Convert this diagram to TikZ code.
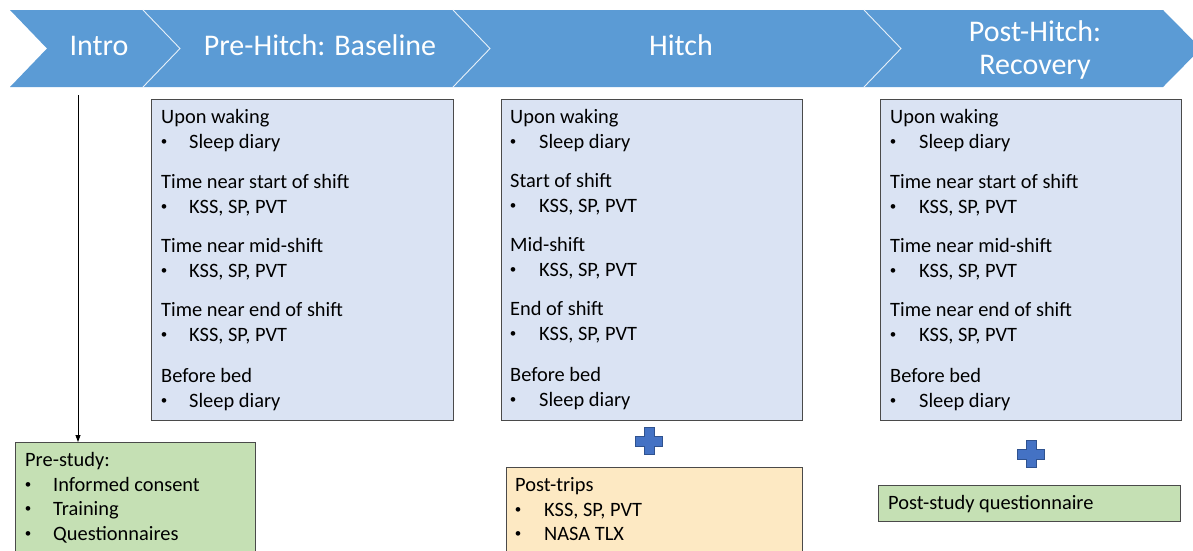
\documentclass[tikz,border=0pt]{standalone}
\usepackage{fontspec}
\setmainfont{Carlito}
\usetikzlibrary{arrows.meta}
\definecolor{chev}{HTML}{5B9BD5}
\definecolor{boxblue}{HTML}{DAE3F3}
\definecolor{boxgreen}{HTML}{C5E0B4}
\definecolor{boxyellow}{HTML}{FDE9C3}
\definecolor{boxline}{HTML}{4A4A4A}
\definecolor{plusfill}{HTML}{4472C4}
\definecolor{plusline}{HTML}{2F528F}
\newcommand\kssline{KSS, SP, PVT}
\begin{document}
\begin{tikzpicture}[x=1pt,y=-1pt,
  hdr/.style={anchor=base, inner sep=0pt, text=white, font=\fontsize{30}{33}\selectfont},
  txt/.style={anchor=base west, inner sep=0pt, font=\fontsize{20.4}{24}\selectfont},
  bul/.style={anchor=base, inner sep=0pt, yshift=2.4pt, font=\fontsize{13}{15}\selectfont},
  panel/.style={draw=boxline, line width=1.1pt, rectangle, inner sep=0pt, anchor=north west},
  plusmark/.style={fill=plusfill, draw=plusline, line width=0.8pt}]
\useasboundingbox (0,0) rectangle (1193,550);
\clip (0,0) rectangle (1193,550);
% chevron band
\fill[chev] (10,10) -- (1163,10) -- (1201,48.5) -- (1163,87) -- (10,87) -- (47,48.5) -- cycle;
\draw[white!85!chev, line width=0.9pt] (143,10) -- (180,48.5) -- (143,87);
\draw[white!85!chev, line width=0.9pt] (453,10) -- (490,48.5) -- (453,87);
\draw[white!85!chev, line width=0.9pt] (864,10) -- (901,48.5) -- (864,87);
\node[hdr] (intro) at (99,55) {Intro};
\node[hdr] (pre) at (320,55) {Pre-Hitch: Baseline};
\node[hdr] (hitch) at (681,55) {Hitch};
\node[hdr] (post1) at (1035,41) {Post-Hitch:};
\node[hdr] (post2) at (1035,74) {Recovery};
% panels
\node[panel, fill=boxblue, minimum width=302pt, minimum height=321pt] (bA) at (151,99) {};
\node[panel, fill=boxblue, minimum width=301pt, minimum height=321pt] (bB) at (501,99) {};
\node[panel, fill=boxblue, minimum width=301pt, minimum height=321pt] (bC) at (880,99) {};
\node[panel, fill=boxgreen, minimum width=240pt, minimum height=130pt] (prestudy) at (15,442) {};
\node[panel, fill=boxyellow, minimum width=296pt, minimum height=110pt] (posttrips) at (506,467) {};
\node[panel, fill=boxgreen, minimum width=302pt, minimum height=36pt] (poststudy) at (878,485) {};
% arrow
\coordinate (astart) at (78,95);
\draw[line width=0.8pt, -{Triangle[length=7pt,width=5pt]}] (astart) -- (astart |- prestudy.north);
% panel texts
\foreach \L/\B/\I/\n in {161/164/189/A, 890/893/919/C}{
  \node[txt] (\n h1) at (\L,123) {Upon waking};
  \node[bul] (\n b1) at (\B,148) {•};
  \node[txt] (\n i1) at (\I,148) {Sleep diary};
  \node[txt] (\n h2) at (\L,188) {Time near start of shift};
  \node[bul] (\n b2) at (\B,213) {•};
  \node[txt] (\n i2) at (\I,213) {\kssline};
  \node[txt] (\n h3) at (\L,252) {Time near mid-shift};
  \node[bul] (\n b3) at (\B,277) {•};
  \node[txt] (\n i3) at (\I,277) {\kssline};
  \node[txt] (\n h4) at (\L,316) {Time near end of shift};
  \node[bul] (\n b4) at (\B,341) {•};
  \node[txt] (\n i4) at (\I,341) {\kssline};
  \node[txt] (\n h5) at (\L,382) {Before bed};
  \node[bul] (\n b5) at (\B,407) {•};
  \node[txt] (\n i5) at (\I,407) {Sleep diary};
}
\node[txt] (Bh1) at (510,123) {Upon waking};
\node[bul] (Bb1) at (513,148) {•};
\node[txt] (Bi1) at (539,148) {Sleep diary};
\node[txt] (Bh2) at (510,187) {Start of shift};
\node[bul] (Bb2) at (513,212) {•};
\node[txt] (Bi2) at (539,212) {\kssline};
\node[txt] (Bh3) at (510,251) {Mid-shift};
\node[bul] (Bb3) at (513,276) {•};
\node[txt] (Bi3) at (539,276) {\kssline};
\node[txt] (Bh4) at (510,315) {End of shift};
\node[bul] (Bb4) at (513,340) {•};
\node[txt] (Bi4) at (539,340) {\kssline};
\node[txt] (Bh5) at (510,381) {Before bed};
\node[bul] (Bb5) at (513,406) {•};
\node[txt] (Bi5) at (539,406) {Sleep diary};
% pre-study
\node[txt] (ps0) at (25,466) {Pre-study:};
\node[bul] (psb1) at (28,491) {•};
\node[txt] (ps1) at (53,491) {Informed consent};
\node[bul] (psb2) at (28,515) {•};
\node[txt] (ps2) at (53,515) {Training};
\node[bul] (psb3) at (28,540) {•};
\node[txt] (ps3) at (53,540) {Questionnaires};
% post-trips
\node[txt] (pt0) at (515,491) {Post-trips};
\node[bul] (ptb1) at (518,516) {•};
\node[txt] (pt1) at (544,516) {\kssline};
\node[bul] (ptb2) at (518,540) {•};
\node[txt] (pt2) at (544,540) {NASA TLX};
% post-study
\node[txt] (pq) at (888,509) {Post-study questionnaire};
% plus signs
\foreach \cx/\cy in {649/441, 1031/454}{
  \draw[plusmark] (\cx-5,\cy-13.5) -- (\cx+5,\cy-13.5) -- (\cx+5,\cy-5) -- (\cx+13.5,\cy-5)
    -- (\cx+13.5,\cy+5) -- (\cx+5,\cy+5) -- (\cx+5,\cy+13.5) -- (\cx-5,\cy+13.5)
    -- (\cx-5,\cy+5) -- (\cx-13.5,\cy+5) -- (\cx-13.5,\cy-5) -- (\cx-5,\cy-5) -- cycle;
}
\end{tikzpicture}
\end{document}
